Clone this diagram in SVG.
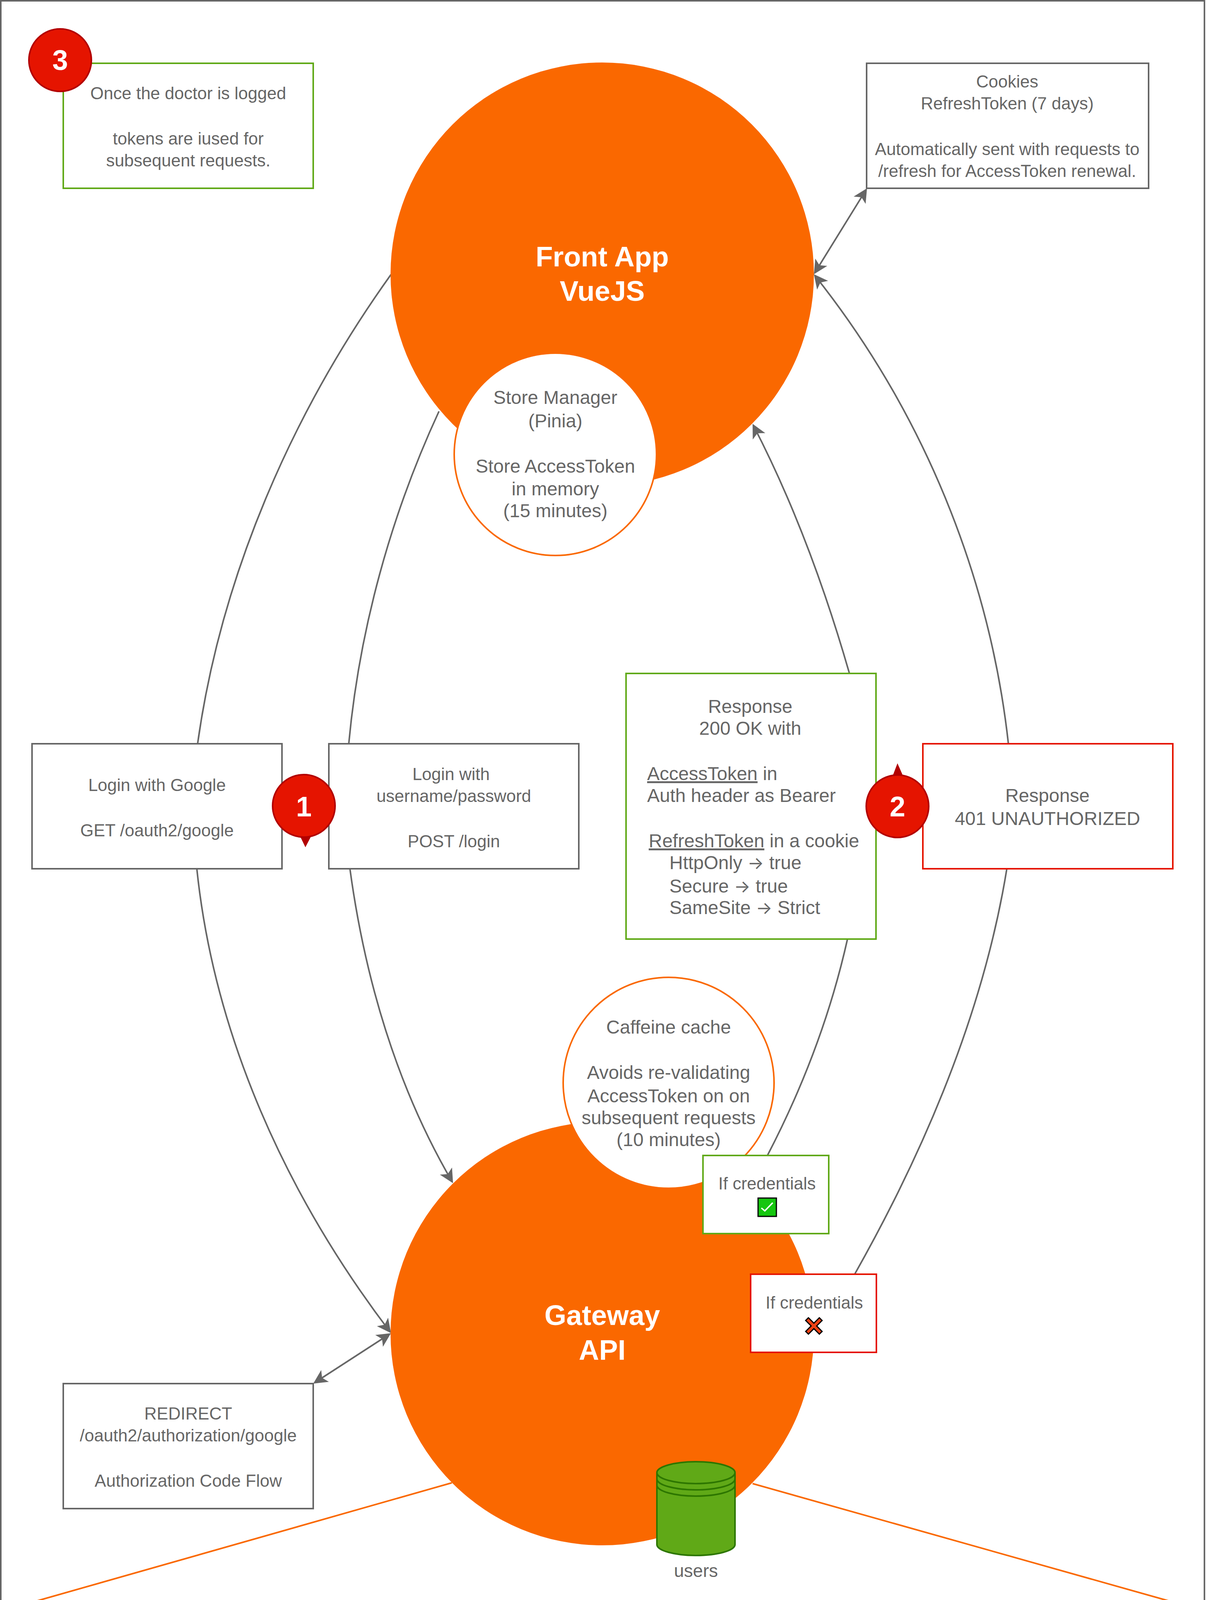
<svg xmlns="http://www.w3.org/2000/svg" width="3088" height="4136" viewBox="0 0 3088 4136">
<style>
text{font-family:"Liberation Sans",Arial,Helvetica,sans-serif;fill:#666666;text-anchor:middle}
.s{font-size:44px}
.m{font-size:48px}
.l{font-size:48px;text-anchor:start}
.u{text-decoration:underline}
.a{font-family:"Inter","DejaVu Sans",sans-serif;font-size:44px}
.h{font-size:72px;font-weight:bold;fill:#FFFFFF}
.box{fill:#FFFFFF;stroke:#666666;stroke-width:4}
.grn{fill:#FFFFFF;stroke:#60A917;stroke-width:4}
.red{fill:#FFFFFF;stroke:#E51400;stroke-width:4}
.big{fill:#FA6800}
.sub{fill:#FFFFFF;stroke:#FA6800;stroke-width:4}
.bdg{fill:#E51400;stroke:#B20000;stroke-width:4}
.tail{fill:#B20000}
.c{fill:none;stroke:#666666;stroke-width:4}
.o{fill:none;stroke:#FA6800;stroke-width:4}
.cyl{fill:#60A917;stroke:#2D7600;stroke-width:4}
.ring{fill:none;stroke:#2D7600;stroke-width:4}
</style>
<defs>
<marker id="arr" viewBox="-1 -20 40 40" markerWidth="40" markerHeight="40" refX="32" refY="0" markerUnits="userSpaceOnUse" orient="auto-start-reverse">
<path d="M36,0 L0,-18 L9,0 L0,18 Z" fill="#666666"/>
</marker>
</defs>
<rect id="frame" x="2" y="2" width="3082" height="4124" fill="#FFFFFF" stroke="#666666" stroke-width="4"/>
<g id="connectors">
<path class="o" d="M1157,3796 L4,4124"/>
<path class="o" d="M1927,3798 L3084,4124"/>
<path class="c" d="M1001,703 C745,1060 565,1480 506,1904"/>
<path class="c" d="M504,2224 C548,2648 730,3056 998.8,3409.6" marker-end="url(#arr)"/>
<path class="c" d="M1124,1053 C1000,1321 920,1613 893,1904"/>
<path class="c" d="M896,2224 C934,2503 1015,2781 1158,3025.5" marker-end="url(#arr)"/>
<path class="c" d="M2582,1904 C2535,1480 2368,1060 2086.4,705.2" marker-end="url(#arr)"/>
<path class="c" d="M2175,1724 C2112,1505 2032,1288 1928.8,1088.6" marker-end="url(#arr)"/>
<path class="c" d="M2578,2224 C2519,2588 2370,2940 2189,3261"/>
<path class="c" d="M2170,2404 C2127,2596 2056,2783 1965,2958"/>
<path class="c" d="M2086.1,698.6 L2217.9,485.4" marker-start="url(#arr)" marker-end="url(#arr)"/>
<path class="c" d="M805.4,3539.8 L997.6,3415.2" marker-start="url(#arr)" marker-end="url(#arr)"/>
</g>
<g id="front-app">
<circle class="big" cx="1542" cy="702" r="542"/>
<text class="h" x="1542" y="682">Front App</text>
<text class="h" x="1542" y="770">VueJS</text>
</g>
<g id="store-manager">
<circle class="sub" cx="1422" cy="1163" r="259"/>
<text class="m" x="1422" y="1034">Store Manager</text>
<text class="m" x="1422" y="1094">(Pinia)</text>
<text class="m" x="1422" y="1210">Store AccessToken</text>
<text class="m" x="1422" y="1268">in memory</text>
<text class="m" x="1422" y="1324">(15 minutes)</text>
</g>
<g id="gateway">
<circle class="big" cx="1542" cy="3414" r="542"/>
<text class="h" x="1542" y="3392">Gateway</text>
<text class="h" x="1542" y="3481">API</text>
</g>
<g id="caffeine">
<circle class="sub" cx="1712" cy="2772" r="270"/>
<text class="m" x="1712" y="2646">Caffeine cache</text>
<text class="m" x="1712" y="2762">Avoids re-validating</text>
<text class="m" x="1712" y="2822">AccessToken on on</text>
<text class="m" x="1712" y="2878">subsequent requests</text>
<text class="m" x="1712" y="2934">(10 minutes)</text>
</g>
<g id="note-logged">
<rect class="grn" x="162" y="162" width="640" height="320"/>
<text class="s" x="482" y="254">Once the doctor is logged</text>
<text class="s" x="482" y="370">tokens are iused for</text>
<text class="s" x="482" y="426">subsequent requests.</text>
</g>
<g id="badge-3">
<circle class="bdg" cx="154" cy="154" r="80"/>
<text class="h" x="154" y="179">3</text>
</g>
<g id="cookies">
<rect class="box" x="2219" y="162" width="722" height="320"/>
<text class="s" x="2579" y="224">Cookies</text>
<text class="s" x="2579" y="280">RefreshToken (7 days)</text>
<text class="s" x="2579" y="397">Automatically sent with requests to</text>
<text class="s" x="2579" y="453">/refresh for AccessToken renewal.</text>
</g>
<g id="login-google">
<rect class="box" x="82" y="1904" width="640" height="320"/>
<text class="s" x="402" y="2025">Login with Google</text>
<text class="s" x="402" y="2141">GET /oauth2/google</text>
</g>
<g id="login-password">
<rect class="box" x="842" y="1904" width="640" height="320"/>
<text class="s" x="1155" y="1997">Login with</text>
<text class="s" x="1162" y="2053">username/password</text>
<text class="s" x="1162" y="2169">POST /login</text>
</g>
<g id="badge-1">
<path class="tail" d="M768,2140 L782,2169 L797,2140 Z"/>
<circle class="bdg" cx="778" cy="2063" r="80"/>
<text class="h" x="778" y="2090">1</text>
</g>
<g id="response-200">
<rect class="grn" x="1603" y="1724" width="640" height="680"/>
<text class="m" x="1921" y="1825">Response</text>
<text class="m" x="1921" y="1881">200 OK with</text>
<text class="l" x="1657" y="1997"><tspan class="u">AccessToken</tspan> in</text>
<text class="l" x="1657" y="2053">Auth header as Bearer</text>
<text class="l" x="1661" y="2169"><tspan class="u">RefreshToken</tspan> in a cookie</text>
<text class="l" x="1714" y="2225">HttpOnly <tspan class="a">→</tspan> true</text>
<text class="l" x="1714" y="2285">Secure <tspan class="a">→</tspan> true</text>
<text class="l" x="1714" y="2340">SameSite <tspan class="a">→</tspan> Strict</text>
</g>
<g id="response-401">
<rect class="red" x="2363" y="1904" width="640" height="320"/>
<text class="m" x="2682" y="2053">Response</text>
<text class="m" x="2682" y="2112">401 UNAUTHORIZED</text>
</g>
<g id="badge-2">
<path class="tail" d="M2285,1988 L2298,1954 L2313,1988 Z"/>
<circle class="bdg" cx="2298" cy="2064" r="80"/>
<text class="h" x="2298" y="2090">2</text>
</g>
<g id="if-ok">
<rect class="grn" x="1800" y="2958" width="322" height="200"/>
<text class="s" x="1964" y="3045">If credentials</text>
<rect x="1941" y="3067" width="47" height="47" fill="#15C60F" stroke="#000000" stroke-width="3"/>
<path d="M1949.5,3092.5 L1958.3,3099.8 L1978.6,3079" fill="none" stroke="#FFFFFF" stroke-width="3.5"/>
</g>
<g id="if-ko">
<rect class="red" x="1922" y="3262" width="322" height="200"/>
<text class="s" x="2085" y="3350">If credentials</text>
<path d="M2063,3380.4 L2070,3373.4 L2084,3387.4 L2098,3373.4 L2105,3380.4 L2091,3394.4 L2105,3408.4 L2098,3415.4 L2084,3401.4 L2070,3415.4 L2063,3408.4 L2077,3394.4 Z" fill="#EE4215" stroke="#000000" stroke-width="3"/>
</g>
<g id="redirect">
<rect class="box" x="162" y="3542" width="640" height="320"/>
<text class="s" x="482" y="3634">REDIRECT</text>
<text class="s" x="482" y="3690">/oauth2/authorization/google</text>
<text class="s" x="482" y="3806">Authorization Code Flow</text>
</g>
<g id="users">
<path class="cyl" d="M1682,3770 A100,28 0 0 1 1882,3770 L1882,3954 A100,28 0 0 1 1682,3954 Z"/>
<path class="ring" d="M1682,3770 A100,28 0 0 0 1882,3770 M1682,3786 A100,28 0 0 0 1882,3786 M1682,3802 A100,28 0 0 0 1882,3802"/>
<text class="s" x="1782" y="4037" style="font-size:46px">users</text>
</g>
</svg>
